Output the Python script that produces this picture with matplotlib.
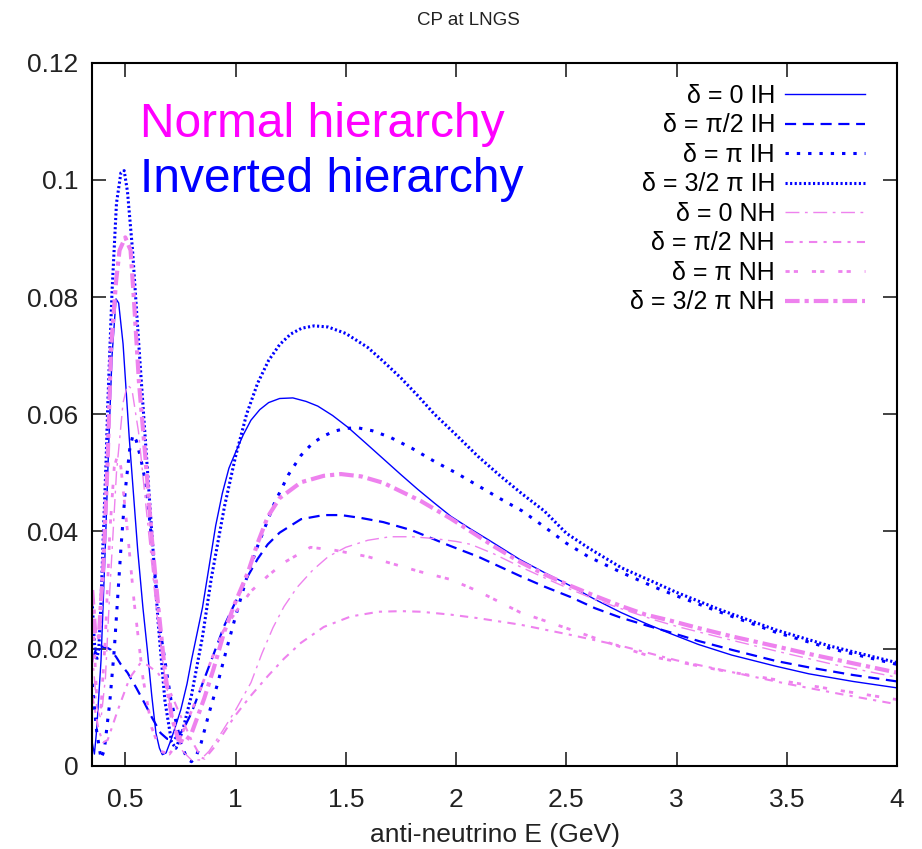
import numpy as np
import matplotlib
matplotlib.use("Agg")
import matplotlib.pyplot as plt

plt.rcParams['font.family'] = ['Liberation Sans', 'DejaVu Sans']

BLUE = '#0000ff'
PINK = '#ee82ee'

# --- values (E in GeV, probability) ---
ih0_x = [0.35, 0.36, 0.37, 0.39, 0.41, 0.425, 0.44, 0.458, 0.47, 0.49, 0.518, 0.54, 0.556,
         0.58, 0.60, 0.62, 0.639, 0.655, 0.668, 0.685, 0.707, 0.73, 0.752, 0.78, 0.80, 0.85,
         0.88, 0.91, 0.94, 0.97, 1.0, 1.035, 1.07, 1.11, 1.15, 1.20, 1.26, 1.32, 1.373, 1.44,
         1.509, 1.59, 1.673, 1.75, 1.826, 1.90, 1.976, 2.067, 2.15, 2.29, 2.4, 2.52, 2.63,
         2.746, 2.86, 2.97, 3.1, 3.25, 3.45, 3.6, 3.8, 4.0]
ih0_y = [0.004, 0.002, 0.006, 0.018, 0.038, 0.055, 0.070, 0.0797, 0.079, 0.072, 0.056, 0.045,
         0.037, 0.027, 0.0198, 0.012, 0.0056, 0.003, 0.0019, 0.0022, 0.0044, 0.007, 0.0096,
         0.0140, 0.018, 0.027, 0.034, 0.041, 0.0465, 0.0508, 0.0535, 0.0565, 0.0590, 0.0608,
         0.0620, 0.0627, 0.0628, 0.0622, 0.0614, 0.0598, 0.0578, 0.0551, 0.0523, 0.0497,
         0.0472, 0.0449, 0.0426, 0.0404, 0.0385, 0.0352, 0.0330, 0.0307, 0.0284, 0.0262,
         0.0243, 0.0226, 0.0207, 0.0189, 0.0170, 0.0157, 0.0144, 0.0133]

ih90_x = [0.35, 0.37, 0.39, 0.42, 0.435, 0.46, 0.48, 0.51, 0.55, 0.586, 0.62, 0.66, 0.69,
          0.72, 0.76, 0.80, 0.85, 0.90, 0.95, 1.0, 1.056, 1.10, 1.146, 1.20, 1.297, 1.40,
          1.478, 1.57, 1.67, 1.80, 1.976, 2.1, 2.29, 2.4, 2.52, 2.63, 2.746, 2.86, 2.97,
          3.1, 3.25, 3.45, 3.6, 3.8, 4.0]
ih90_y = [0.018, 0.0202, 0.0204, 0.0201, 0.0198, 0.0185, 0.0173, 0.0159, 0.0133, 0.0108,
          0.0083, 0.0056, 0.0046, 0.0045, 0.0060, 0.0090, 0.0140, 0.0190, 0.0240, 0.028,
          0.0324, 0.0353, 0.0378, 0.0398, 0.0421, 0.0428, 0.0428, 0.0423, 0.0416, 0.0402,
          0.0375, 0.0357, 0.0324, 0.0306, 0.0288, 0.0269, 0.0253, 0.0240, 0.0228, 0.0213,
          0.0198, 0.0179, 0.0168, 0.0155, 0.0144]

ih180_x = [0.35, 0.37, 0.39, 0.405, 0.43, 0.45, 0.48, 0.50, 0.52, 0.535, 0.55, 0.57, 0.594,
           0.624, 0.66, 0.707, 0.752, 0.78, 0.80, 0.82, 0.844, 0.88, 0.92, 0.96, 1.0, 1.05,
           1.10, 1.176, 1.24, 1.297, 1.35, 1.40, 1.446, 1.50, 1.554, 1.62, 1.70, 1.80, 1.90,
           2.0, 2.1, 2.2, 2.3, 2.4, 2.5, 2.6, 2.75, 2.9, 3.0, 3.2, 3.45, 3.7, 4.0]
ih180_y = [0.014, 0.006, 0.0012, 0.0027, 0.011, 0.0198, 0.037, 0.047, 0.054, 0.0565, 0.0555,
           0.0525, 0.048, 0.037, 0.0227, 0.0113, 0.0039, 0.0012, 0.0007, 0.0015, 0.0039,
           0.009, 0.0142, 0.020, 0.0255, 0.032, 0.0375, 0.0448, 0.0497, 0.0530, 0.0551,
           0.0563, 0.0571, 0.0576, 0.0577, 0.0572, 0.0561, 0.0542, 0.052, 0.0500, 0.0478,
           0.0456, 0.0435, 0.0408, 0.0380, 0.0357, 0.0330, 0.0305, 0.0290, 0.0262, 0.0228,
           0.0200, 0.0173]

ih270_x = [0.35, 0.36, 0.37, 0.38, 0.39, 0.40, 0.413, 0.42, 0.44, 0.46, 0.48, 0.495, 0.51,
           0.533, 0.563, 0.594, 0.62, 0.65, 0.68, 0.71, 0.73, 0.76, 0.80, 0.85, 0.89, 0.95,
           1.0, 1.05, 1.10, 1.15, 1.20, 1.25, 1.30, 1.357, 1.42, 1.50, 1.60, 1.674, 1.75,
           1.826, 1.90, 2.0, 2.1, 2.2, 2.3, 2.4, 2.5, 2.6, 2.75, 2.9, 3.0, 3.2, 3.45, 3.7, 4.0]
ih270_y = [0.028, 0.021, 0.018, 0.020, 0.028, 0.039, 0.052, 0.061, 0.081, 0.096, 0.1012,
           0.1016, 0.098, 0.088, 0.071, 0.054, 0.040, 0.024, 0.011, 0.004, 0.003, 0.006,
           0.012, 0.022, 0.032, 0.0443, 0.0528, 0.0600, 0.0653, 0.0692, 0.0719, 0.0737,
           0.0747, 0.0751, 0.0749, 0.0738, 0.0714, 0.0689, 0.0662, 0.0632, 0.0601, 0.0565,
           0.0528, 0.0495, 0.0464, 0.0435, 0.0397, 0.0372, 0.0338, 0.0313, 0.0296, 0.0266,
           0.0232, 0.0204, 0.0176]

nh0_x = [0.35, 0.37, 0.39, 0.41, 0.43, 0.46, 0.49, 0.51, 0.53, 0.56, 0.60, 0.64, 0.68, 0.72,
         0.76, 0.80, 0.84, 0.88, 0.935, 1.0, 1.07, 1.12, 1.17, 1.22, 1.28, 1.35, 1.42, 1.5,
         1.6, 1.7, 1.8, 1.9, 2.0, 2.067, 2.17, 2.29, 2.4, 2.52, 2.63, 2.75, 2.9, 3.0, 3.2,
         3.45, 3.7, 4.0]
nh0_y = [0.020, 0.010, 0.008, 0.015, 0.030, 0.050, 0.062, 0.065, 0.0643, 0.057, 0.042, 0.027,
         0.015, 0.007, 0.0025, 0.0010, 0.0010, 0.0025, 0.0056, 0.0095, 0.0142, 0.0192,
         0.0236, 0.0272, 0.0305, 0.0334, 0.0357, 0.0373, 0.0385, 0.0391, 0.0391, 0.0388,
         0.0383, 0.0378, 0.0362, 0.0340, 0.0321, 0.0301, 0.0284, 0.0268, 0.0249, 0.0238,
         0.0219, 0.0196, 0.0174, 0.0151]

nh90_x = [0.35, 0.38, 0.40, 0.42, 0.467, 0.52, 0.57, 0.60, 0.647, 0.70, 0.738, 0.80, 0.844,
          0.86, 0.90, 0.95, 0.995, 1.07, 1.146, 1.22, 1.297, 1.40, 1.523, 1.65, 1.75, 1.84,
          1.976, 2.1, 2.29, 2.5, 2.746, 3.0, 3.25, 3.5, 3.75, 4.0]
nh90_y = [0.012, 0.006, 0.004, 0.0044, 0.0096, 0.015, 0.0176, 0.0172, 0.0159, 0.013, 0.0096,
          0.0044, 0.0014, 0.0012, 0.003, 0.0058, 0.0084, 0.012, 0.0153, 0.0183, 0.021,
          0.0237, 0.0255, 0.0263, 0.0264, 0.0263, 0.0258, 0.0252, 0.0241, 0.0225, 0.0205,
          0.0180, 0.0160, 0.0140, 0.0122, 0.0105]

nh180_x = [0.35, 0.37, 0.39, 0.41, 0.43, 0.45, 0.465, 0.48, 0.51, 0.54, 0.58, 0.62, 0.66,
           0.70, 0.74, 0.78, 0.84, 0.90, 0.95, 1.01, 1.07, 1.146, 1.22, 1.34, 1.45, 1.6, 1.84,
           1.976, 2.1, 2.29, 2.5, 2.746, 2.88, 3.0, 3.2, 3.45, 3.7, 4.0]
nh180_y = [0.028, 0.012, 0.010, 0.022, 0.040, 0.051, 0.053, 0.051, 0.040, 0.028, 0.015,
           0.0065, 0.0025, 0.002, 0.004, 0.0075, 0.013, 0.019, 0.0235, 0.0267, 0.0298,
           0.0324, 0.0347, 0.0373, 0.0368, 0.0357, 0.0331, 0.0318, 0.0298, 0.0262, 0.0235,
           0.0203, 0.0187, 0.0178, 0.0163, 0.0147, 0.0131, 0.0113]

nh270_x = [0.35, 0.365, 0.38, 0.40, 0.42, 0.435, 0.458, 0.474, 0.50, 0.524, 0.539, 0.562,
           0.592, 0.62, 0.65, 0.68, 0.71, 0.74, 0.77, 0.80, 0.858, 0.90, 0.95, 1.0, 1.056,
           1.10, 1.146, 1.20, 1.297, 1.40, 1.478, 1.57, 1.67, 1.84, 1.976, 2.067, 2.17, 2.29,
           2.4, 2.52, 2.63, 2.746, 2.86, 2.97, 3.1, 3.25, 3.45, 3.6, 3.8, 4.0]
nh270_y = [0.030, 0.022, 0.022, 0.034, 0.052, 0.0711, 0.0826, 0.088, 0.0902, 0.088, 0.0797,
           0.0655, 0.0523, 0.039, 0.027, 0.016, 0.0085, 0.0045, 0.004, 0.0055, 0.0115,
           0.0165, 0.023, 0.028, 0.0330, 0.0380, 0.0425, 0.0457, 0.0484, 0.0495, 0.0498,
           0.0494, 0.0483, 0.0452, 0.0422, 0.0400, 0.0375, 0.0348, 0.0327, 0.0307, 0.029,
           0.0273, 0.0258, 0.0248, 0.0235, 0.0221, 0.0204, 0.0191, 0.0175, 0.0159]

labels = ['δ = 0 IH', 'δ = π/2 IH', 'δ = π IH', 'δ = 3/2 π IH',
          'δ = 0 NH', 'δ = π/2 NH', 'δ = π NH', 'δ = 3/2 π NH']

series = [
    (ih0_x, ih0_y, BLUE, 1.0, '-'),
    (ih90_x, ih90_y, BLUE, 1.6, (0, (5, 3))),
    (ih180_x, ih180_y, BLUE, 2.2, (0, (1.1, 2.6))),
    (ih270_x, ih270_y, BLUE, 2.2, (0, (0.7, 0.8))),
    (nh0_x, nh0_y, PINK, 1.0, (0, (10, 4, 2, 4))),
    (nh90_x, nh90_y, PINK, 1.5, (0, (4, 3, 1.5, 3))),
    (nh180_x, nh180_y, PINK, 2.0, (0, (1.5, 1.5, 1.5, 5))),
    (nh270_x, nh270_y, PINK, 3.0, (0, (3.5, 1.2, 1, 1.2))),
]

fig = plt.figure(figsize=(9.22, 8.49), dpi=100)
ax = fig.add_axes([0.100, 0.098, 0.873, 0.828])

for (xs, ys, c, lw, ls), lab in zip(series, labels):
    ax.plot(xs, ys, color=c, lw=lw, linestyle=ls, label=lab)

ax.set_xlim(0.35, 4.0)
ax.set_ylim(0, 0.12)
ax.set_xticks([0.5, 1, 1.5, 2, 2.5, 3, 3.5, 4])
ax.set_xticklabels(['0.5', '1', '1.5', '2', '2.5', '3', '3.5', '4'])
ax.set_yticks([0, 0.02, 0.04, 0.06, 0.08, 0.1, 0.12])
ax.set_yticklabels(['0', '0.02', '0.04', '0.06', '0.08', '0.1', '0.12'])
ax.tick_params(direction='in', length=10, width=1.2, top=True, right=True,
               labelsize=19, colors='#222222')
ax.tick_params(axis='x', pad=16)
ax.tick_params(axis='y', pad=10)
for sp in ax.spines.values():
    sp.set_linewidth(1.5)

ax.set_xlabel('anti-neutrino E (GeV)', fontsize=19, labelpad=8, color='#222222')
ax.set_title('CP at LNGS', fontsize=13.5, x=0.468, pad=27, color='#222222')

ax.text(0.565, 0.1094, 'Normal hierarchy', color='#ff00ff', fontsize=34.5, va='center')
ax.text(0.565, 0.1000, 'Inverted hierarchy', color=BLUE, fontsize=34.5, va='center')

leg = ax.legend(loc='upper right', frameon=False, markerfirst=False, fontsize=18,
                handlelength=3.2, handletextpad=0.4, labelspacing=0.22,
                borderaxespad=0.3, bbox_to_anchor=(0.982, 0.995))

fig.savefig('out.png', dpi=100)
